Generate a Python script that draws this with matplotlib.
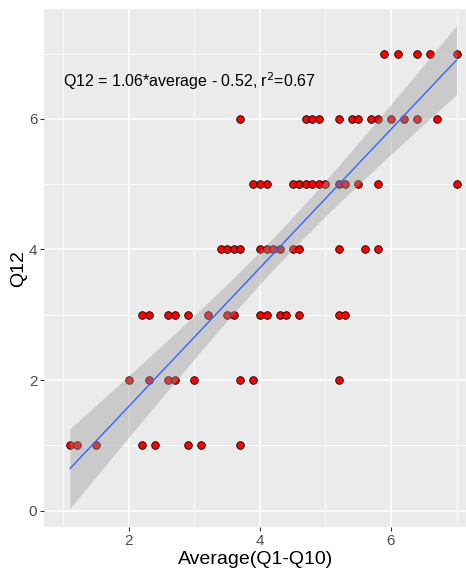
import numpy as np
import matplotlib
matplotlib.use("Agg")
import matplotlib.pyplot as plt

plt.rcParams['font.family'] = ['Liberation Sans', 'DejaVu Sans']

# Q12 の値ごとの Average(Q1-Q10)
avg_q1 = [1.1, 1.2, 1.5, 2.2, 2.4, 2.9, 3.1, 3.7]
avg_q2 = [2.0, 2.3, 2.6, 2.7, 3.0, 3.7, 3.9, 5.2]
avg_q3 = [2.2, 2.3, 2.6, 2.7, 2.9, 3.2, 3.5, 3.6, 4.0, 4.1, 4.3, 4.4, 4.6, 5.2, 5.3]
avg_q4 = [3.4, 3.5, 3.6, 3.7, 4.0, 4.1, 4.2, 4.3, 4.5, 4.6, 5.2, 5.6, 5.8]
avg_q5 = [3.9, 4.0, 4.1, 4.5, 4.6, 4.7, 4.8, 4.9, 5.0, 5.2, 5.3, 5.5, 5.8, 7.0]
avg_q6 = [3.7, 4.7, 4.8, 4.9, 5.2, 5.4, 5.5, 5.7, 5.8, 6.0, 6.2, 6.4, 6.7]
avg_q7 = [5.9, 6.1, 6.4, 6.6, 7.0]
# 図中の回帰式 (重なった点があるので式の値をそのまま使う)
slope = 1.06
intercept = -0.52
label_txt = "Q12 = 1.06*average - 0.52, r$^2$=0.67"

groups = [avg_q1, avg_q2, avg_q3, avg_q4, avg_q5, avg_q6, avg_q7]
x = np.concatenate([np.array(g) for g in groups])
y = np.concatenate([np.full(len(g), i + 1.0) for i, g in enumerate(groups)])

# 回帰直線と95%信頼区間
n = len(x)
resid = y - (intercept + slope * x)
s = np.sqrt(np.sum(resid**2) / (n - 2))
sxx = np.sum((x - x.mean())**2)
xs = np.linspace(x.min(), x.max(), 80)
ys = intercept + slope * xs
se = s * np.sqrt(1.0 / n + (xs - x.mean())**2 / sxx)
t = 1.995

fig = plt.figure(figsize=(4.66, 5.71), dpi=100)
ax = fig.add_axes([0.095, 0.077, 0.905, 0.907])
ax.set_facecolor('#EBEBEB')

ax.scatter(x, y, s=30, c='red', edgecolors='black', linewidths=0.6, zorder=3)
ax.fill_between(xs, ys - t * se, ys + t * se, color='#999999', alpha=0.4, lw=0, zorder=4)
ax.plot(xs, ys, color='#3366FF', lw=1.0, zorder=5)

ax.text(1.0, 6.58, label_txt, fontsize=11.5, ha='left', va='center', color='black', zorder=6)

ax.set_xlim(0.707, 7.145)
ax.set_ylim(-0.25, 7.68)
ax.set_xticks([2, 4, 6])
ax.set_yticks([0, 2, 4, 6])
ax.set_xticks([1, 3, 5, 7], minor=True)
ax.set_yticks([1, 3, 5, 7], minor=True)
ax.grid(which='major', color='white', lw=1.1, zorder=0)
ax.grid(which='minor', color='white', lw=0.55, zorder=0)
ax.set_axisbelow(True)
for sp in ax.spines.values():
    sp.set_visible(False)
ax.tick_params(which='major', length=3, width=0.8, color='#333333', labelsize=11, labelcolor='#4D4D4D', pad=2)
ax.tick_params(which='minor', length=0)

ax.set_xlabel('Average(Q1-Q10)', fontsize=14, labelpad=2)
ax.set_ylabel('Q12', fontsize=14, labelpad=1)

fig.savefig('out.png', dpi=100)
